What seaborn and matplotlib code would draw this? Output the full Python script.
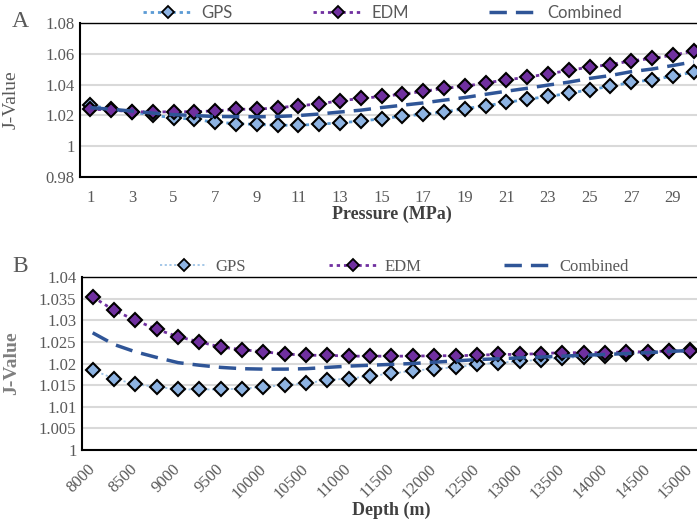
import matplotlib
matplotlib.use("Agg")
import matplotlib.pyplot as plt
import seaborn as sns
from matplotlib.ticker import FixedLocator, FuncFormatter
from matplotlib.lines import Line2D

# ---------------- data ----------------
pressure = list(range(1, 31))
pressure_labels = [str(p) for p in range(1, 30, 2)]
gps_a = [1.0266, 1.0240, 1.0224, 1.0200, 1.0185, 1.0174, 1.0156, 1.0147, 1.0141, 1.0136,
         1.0136, 1.0143, 1.0152, 1.0163, 1.0178, 1.0195, 1.0207, 1.0222, 1.0244, 1.0262,
         1.0284, 1.0305, 1.0323, 1.0343, 1.0367, 1.0389, 1.0415, 1.0431, 1.0455, 1.0481]
edm_a = [1.0240, 1.0235, 1.0224, 1.0222, 1.0224, 1.0224, 1.0229, 1.0240, 1.0240, 1.0250,
         1.0262, 1.0275, 1.0295, 1.0310, 1.0323, 1.0338, 1.0356, 1.0376, 1.0389, 1.0411,
         1.0431, 1.0448, 1.0470, 1.0492, 1.0514, 1.0530, 1.0554, 1.0570, 1.0591, 1.0618]
comb_a = [1.0250, 1.0240, 1.0228, 1.0215, 1.0205, 1.0199, 1.0193, 1.0192, 1.0191, 1.0193,
          1.0199, 1.0209, 1.0222, 1.0234, 1.0251, 1.0266, 1.0281, 1.0299, 1.0316, 1.0337,
          1.0357, 1.0376, 1.0397, 1.0416, 1.0440, 1.0459, 1.0484, 1.0501, 1.0524, 1.0548]

depth = list(range(8000, 15001, 250))
depth_labels = [str(d) for d in range(8000, 15001, 500)]
gps_b = [1.0185, 1.0165, 1.0152, 1.0146, 1.0140, 1.0140, 1.0140, 1.0142, 1.0146, 1.0150,
         1.0154, 1.0162, 1.0165, 1.0171, 1.0177, 1.0183, 1.0188, 1.0191, 1.0198, 1.0202,
         1.0205, 1.0209, 1.0213, 1.0215, 1.0218, 1.0223, 1.0225, 1.0228, 1.0231]
edm_b = [1.0354, 1.0323, 1.0300, 1.0279, 1.0262, 1.0250, 1.0238, 1.0232, 1.0227, 1.0222,
         1.0219, 1.0219, 1.0217, 1.0217, 1.0217, 1.0217, 1.0218, 1.0218, 1.0219, 1.0221,
         1.0221, 1.0223, 1.0225, 1.0225, 1.0225, 1.0227, 1.0227, 1.0229, 1.0229]
comb_b = [1.0271, 1.0244, 1.0227, 1.0214, 1.0202, 1.0196, 1.0191, 1.0188, 1.0187, 1.0187,
          1.0188, 1.0191, 1.0194, 1.0196, 1.0198, 1.0200, 1.0203, 1.0206, 1.0209, 1.0211,
          1.0213, 1.0215, 1.0217, 1.0219, 1.0221, 1.0223, 1.0225, 1.0228, 1.0230]

series = ["GPS", "EDM", "Combined"]

# ---------------- style ----------------
sns.set_style("white")
plt.rcParams["font.family"] = ["Liberation Serif", "DejaVu Serif"]

GRAY = "#595959"
GPS_FILL = "#8DB3E2"
GPS_LINE_A = "#5B9BD5"
GPS_LINE_B = "#9DC3E6"
EDM_COL = "#7030A0"
COMB_COL = "#2F5597"
MS = 6.8

fig = plt.figure(figsize=(6.97, 5.19), dpi=100)
W, H = 697, 519
axA = fig.add_axes([80 / W, (H - 177) / H, 624 / W, 154 / H])
axB = fig.add_axes([82 / W, (H - 450) / H, 619 / W, 173 / H])


def fmt(v, pos):
    s = f"{v:.3f}".rstrip("0").rstrip(".")
    return s


def draw(ax, x, g, e, c, gps_line, gps_lw):
    sns.lineplot(x=x, y=g, ax=ax, color=gps_line, lw=gps_lw, linestyle=(0, (1.2, 1.4)),
                 marker="D", markersize=MS, markerfacecolor=GPS_FILL,
                 markeredgecolor="black", markeredgewidth=1.5, zorder=3, legend=False)
    sns.lineplot(x=x, y=e, ax=ax, color=EDM_COL, lw=2, linestyle=(0, (1.2, 1.4)),
                 marker="D", markersize=MS, markerfacecolor=EDM_COL,
                 markeredgecolor="black", markeredgewidth=1.5, zorder=4, legend=False)
    sns.lineplot(x=x, y=c, ax=ax, color=COMB_COL, lw=2.5, linestyle=(0, (5, 2.6)),
                 zorder=5, legend=False)
    ax.set_facecolor("white")
    ax.yaxis.grid(True, color="#D9D9D9", lw=1.5, zorder=0)
    ax.xaxis.grid(False)
    ax.set_axisbelow(True)
    for side in ["left", "bottom", "top"]:
        ax.spines[side].set_visible(True)
        ax.spines[side].set_color("black")
    ax.spines["left"].set_linewidth(1.5)
    ax.spines["bottom"].set_linewidth(1.5)
    ax.spines["top"].set_linewidth(1.0)
    ax.spines["right"].set_visible(False)
    ax.yaxis.set_major_formatter(FuncFormatter(fmt))
    ax.tick_params(axis="y", length=0, labelsize=12, labelcolor=GRAY, pad=4)
    ax.tick_params(axis="x", which="major", length=0, labelsize=12, labelcolor=GRAY)
    ax.tick_params(axis="x", which="minor", length=4, width=1.5, color="black",
                   direction="out")
    handles = [
        Line2D([], [], color=gps_line, lw=gps_lw, linestyle=(0, (1.2, 1.4)), marker="D",
               markersize=MS - 0.8, markerfacecolor=GPS_FILL, markeredgecolor="black",
               markeredgewidth=1.3),
        Line2D([], [], color=EDM_COL, lw=2, linestyle=(0, (1.2, 1.4)), marker="D",
               markersize=MS - 0.8, markerfacecolor=EDM_COL, markeredgecolor="black",
               markeredgewidth=1.3),
        Line2D([], [], color=COMB_COL, lw=2.5, linestyle=(0, (5, 2.6))),
    ]
    return handles


# ---- Panel A ----
hA = draw(axA, pressure, gps_a, edm_a, comb_a, GPS_LINE_A, 2)
axA.set_xlim(0.5, 30.5)
axA.set_ylim(0.98, 1.08)
axA.set_yticks([0.98, 1.0, 1.02, 1.04, 1.06, 1.08])
axA.set_xticks([int(s) for s in pressure_labels])
axA.set_xticklabels(pressure_labels)
axA.xaxis.set_minor_locator(FixedLocator([p - 0.5 for p in pressure] + [30.5]))
axA.tick_params(axis="x", which="major", pad=9)
axA.set_xlabel("Pressure (MPa)", fontsize=13, fontweight="bold", color="#404040", labelpad=0)
axA.set_ylabel("J-Value", fontsize=14, color=GRAY, labelpad=2)
axA.yaxis.set_label_coords(-0.097, 0.5)
legA = axA.legend(hA, series, loc="center", bbox_to_anchor=(0.485, 1.068), ncol=3,
                  frameon=False, handlelength=3.0, columnspacing=4.8, handletextpad=0.5,
                  prop={"family": "Lato", "size": 12}, numpoints=1)
for t in legA.get_texts():
    t.set_color(GRAY)
fig.text(12 / W, 1 - 22 / H, "A", fontsize=17, color=GRAY, va="center", ha="left")

# ---- Panel B ----
hB = draw(axB, depth, gps_b, edm_b, comb_b, GPS_LINE_B, 1.3)
axB.set_xlim(7875, 15125)
axB.set_ylim(1.0, 1.04)
axB.set_yticks([1.0, 1.005, 1.01, 1.015, 1.02, 1.025, 1.03, 1.035, 1.04])
axB.set_xticks([int(s) for s in depth_labels])
axB.set_xticklabels(depth_labels, rotation=45, ha="right", va="center",
                    rotation_mode="anchor")
axB.xaxis.set_minor_locator(FixedLocator([7875 + 125 * i for i in range(59)]))
axB.tick_params(axis="x", which="major", pad=12)
axB.set_xlabel("Depth (m)", fontsize=13, fontweight="bold", color="#404040", labelpad=0)
axB.set_ylabel("J-Value", fontsize=14, fontweight="bold", color="#7F7F7F")
axB.yaxis.set_label_coords(-0.1, 0.5)
legB = axB.legend(hB, series, loc="center", bbox_to_anchor=(0.505, 1.058), ncol=3,
                  frameon=False, handlelength=2.8, columnspacing=5.0, handletextpad=0.5,
                  prop={"family": "Liberation Serif", "size": 12}, numpoints=1)
for t in legB.get_texts():
    t.set_color(GRAY)
fig.text(12 / W, 1 - 267 / H, "B", fontsize=17, color=GRAY, va="center", ha="left")

fig.savefig("out.png", dpi=100, facecolor="white")
